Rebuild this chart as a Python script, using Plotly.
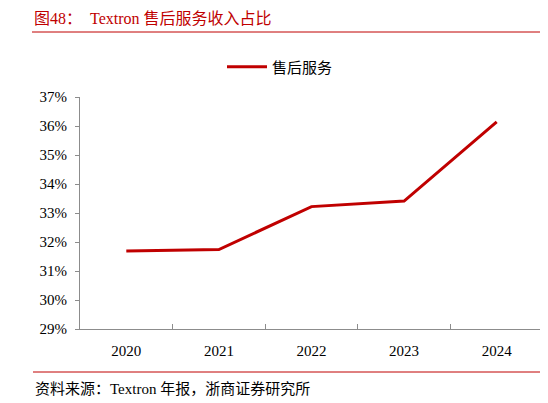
import plotly.graph_objects as go

years = ["2020", "2021", "2022", "2023", "2024"]
share = [0.3169, 0.3174, 0.3322, 0.3341, 0.3614]
series_name = "售后服务"
title_text = "图48：  Textron 售后服务收入占比"
source_text = "资料来源：Textron 年报，浙商证券研究所"

RED = "#C00000"
SERIF = "Times New Roman, Liberation Serif, Noto Sans CJK SC, serif"

fig = go.Figure()
fig.add_trace(go.Scatter(
    x=years, y=share, mode="lines", name=series_name,
    line=dict(color=RED, width=3),
))

# page body has an 8px margin; figure placed at (8, 8) in the window
OFF = 8
W, H = 548 - OFF, 403 - OFF
L, R, T, B = 80 - OFF, 5, 97 - OFF, 74
pw = W - L - R
ph = H - T - B

def py(ypix):  # ypix in window pixels
    return (H - B - (ypix - OFF)) / ph

def px(xpix):
    return ((xpix - OFF) - L) / pw

fig.update_layout(
    width=W, height=H,
    margin=dict(l=L, r=R, t=T, b=B, autoexpand=False),
    paper_bgcolor="white", plot_bgcolor="white",
    font=dict(family=SERIF, size=14, color="black"),
    showlegend=True,
    legend=dict(orientation="h", x=px(222), xanchor="left", y=py(67), yanchor="middle",
                font=dict(size=15, family="Noto Sans CJK SC, serif"), itemwidth=40),
    xaxis=dict(type="category", range=[-0.5, 4.5], showline=True, linecolor="#8c8c8c", linewidth=1,
               ticks="inside", ticklen=5, tickcolor="#8c8c8c", tickson="boundaries",
               showgrid=False, tickfont=dict(size=15, family=SERIF), fixedrange=True,
               ticklabelstandoff=8),
    yaxis=dict(range=[0.29, 0.37], dtick=0.01, tickformat=".0%", showline=True,
               linecolor="#8c8c8c", linewidth=1, ticks="outside", ticklen=4,
               tickcolor="#8c8c8c", showgrid=False, zeroline=False,
               tickfont=dict(size=15, family=SERIF), ticklabelstandoff=5),
    shapes=[
        dict(type="line", xref="paper", yref="paper", x0=px(32), x1=px(548),
             y0=py(32), y1=py(32), line=dict(color=RED, width=1)),
        dict(type="line", xref="paper", yref="paper", x0=px(33), x1=px(543),
             y0=py(372), y1=py(372), line=dict(color=RED, width=1)),
    ],
    annotations=[
        dict(text=title_text, xref="paper", yref="paper", x=px(32), y=py(18),
             xanchor="left", yanchor="middle", showarrow=False,
             font=dict(size=16, color=RED, family="Times New Roman, Liberation Serif, Noto Sans CJK SC")),
        dict(text=source_text, xref="paper", yref="paper", x=px(33), y=py(389),
             xanchor="left", yanchor="middle", showarrow=False,
             font=dict(size=15, color="black", family="Times New Roman, Liberation Serif, Noto Sans CJK SC")),
    ],
)

fig.write_html("out.html")
